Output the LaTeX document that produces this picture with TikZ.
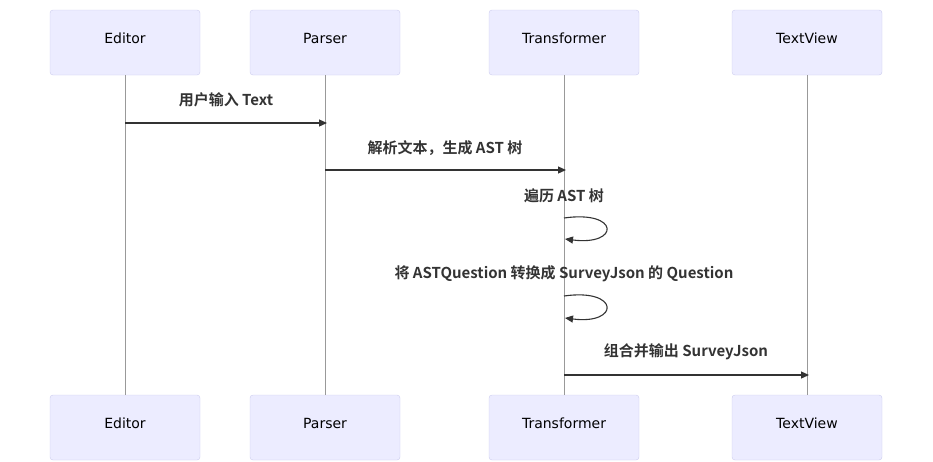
\documentclass[tikz,border=0pt]{standalone}
\usepackage{fontspec}
\setmainfont{DejaVu Sans}
\newfontfamily\cjk{Noto Sans CJK SC}[BoldFont={* Bold}]
\usetikzlibrary{arrows.meta}
\definecolor{actfill}{HTML}{ECECFF}
\definecolor{actline}{HTML}{CCCCEE}
\definecolor{ink}{HTML}{333333}
\begin{document}
\begin{tikzpicture}[x=1pt,y=-1pt,
  actor/.style={draw=actline,fill=actfill,rounded corners=3pt,minimum width=150pt,minimum height=65pt,inner sep=0pt,text=black},
  atext/.style={font=\fontsize{14}{16}\selectfont,inner sep=0pt,text=black},
  life/.style={draw=black!40,line width=0.5pt},
  msg/.style={draw=ink,line width=1.2pt,-{Triangle[length=8pt,width=7pt]}},
  lab/.style={font=\cjk\bfseries\fontsize{15}{17}\selectfont,text=ink,inner sep=0pt}]
\useasboundingbox (0,0) rectangle (933,461);
\foreach \n/\x/\t in {e/125/Editor,p/325/Parser,t/564/Transformer,v/807/TextView}{
  \node[actor] (\n top) at (\x,42.5) {};
  \node[atext] (\n toplab) at (\x,38) {\t};
  \node[actor] (\n bot) at (\x,427.5) {};
  \node[atext] (\n botlab) at (\x,423) {\t};
  \draw[life] (\n top.south) -- (\n bot.north);
}
\coordinate (m1a) at (125,123); \coordinate (m1b) at (327,123);
\draw[msg] (m1a) -- (m1b);
\node[lab] (l1) at (226,100) {用户输入 Text};
\coordinate (m2a) at (325,170); \coordinate (m2b) at (566,170);
\draw[msg] (m2a) -- (m2b);
\node[lab] (l2) at (445,148) {解析文本，生成 AST 树};
\node[lab] (l3) at (564,196) {遍历 AST 树};
\coordinate (s1a) at (564,218); \coordinate (s1b) at (565,239);
\draw[msg,line width=1.1pt] (s1a) .. controls (620,210) and (620,246) .. (s1b);
\node[lab] (l4) at (564,274) {将 ASTQuestion 转换成 SurveyJson 的 Question};
\coordinate (s2a) at (564,296); \coordinate (s2b) at (565,318);
\draw[msg,line width=1.1pt] (s2a) .. controls (620,288) and (620,325) .. (s2b);
\coordinate (m5a) at (564,375); \coordinate (m5b) at (809,375);
\draw[msg] (m5a) -- (m5b);
\node[lab] (l5) at (686,352) {组合并输出 SurveyJson};
\end{tikzpicture}
\end{document}
